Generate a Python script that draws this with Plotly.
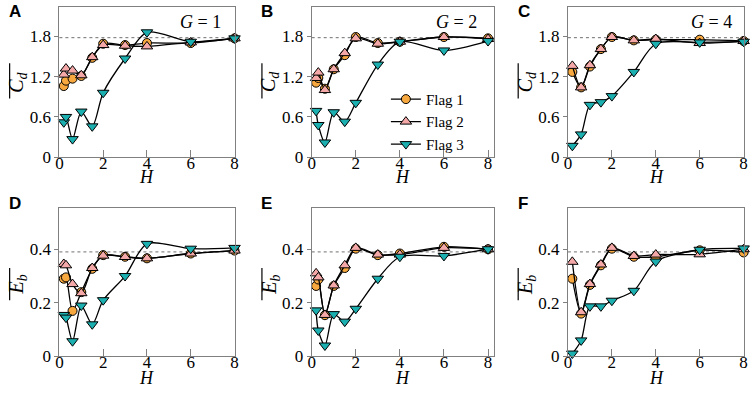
import plotly.graph_objects as go

# ---------------- data ----------------
H_AB = [0.2, 0.3, 0.6, 1, 1.5, 2, 3, 4, 6, 8]
H_C = [0.2, 0.6, 1, 1.5, 2, 3, 4, 6, 8]

cd_A_f1 = [1.06, 1.14, 1.17, 1.21, 1.48, 1.69, 1.67, 1.70, 1.70, 1.77]
cd_A_f2 = [1.23, 1.32, 1.29, 1.22, 1.49, 1.67, 1.66, 1.65, 1.71, 1.77]
cd_A_f3 = [0.52, 0.60, 0.27, 0.68, 0.46, 0.96, 1.47, 1.86, 1.72, 1.77]

cd_B_f1 = [1.11, 1.18, 1.02, 1.31, 1.52, 1.79, 1.70, 1.72, 1.79, 1.77]
cd_B_f2 = [1.18, 1.26, 1.00, 1.31, 1.55, 1.77, 1.69, 1.72, 1.79, 1.76]
cd_B_f3 = [0.69, 0.48, 0.22, 0.67, 0.53, 0.81, 1.38, 1.72, 1.59, 1.73]

cd_C_f1 = [1.27, 1.04, 1.35, 1.61, 1.79, 1.74, 1.75, 1.75, 1.73]
cd_C_f2 = [1.36, 1.04, 1.37, 1.61, 1.79, 1.74, 1.76, 1.70, 1.73]
cd_C_f3 = [0.17, 0.34, 0.78, 0.82, 0.91, 1.27, 1.69, 1.71, 1.72]

eb_D_f1 = [0.29, 0.295, 0.17, 0.24, 0.327, 0.378, 0.372, 0.366, 0.384, 0.395]
eb_D_f2 = [0.345, 0.34, 0.27, 0.236, 0.33, 0.376, 0.371, 0.366, 0.384, 0.395]
eb_D_f3 = [0.155, 0.145, 0.057, 0.19, 0.12, 0.21, 0.30, 0.42, 0.402, 0.405]

eb_E_f1 = [0.263, 0.287, 0.154, 0.263, 0.33, 0.402, 0.378, 0.384, 0.409, 0.40]
eb_E_f2 = [0.31, 0.295, 0.155, 0.265, 0.34, 0.405, 0.38, 0.38, 0.405, 0.40]
eb_E_f3 = [0.172, 0.097, 0.041, 0.158, 0.13, 0.178, 0.29, 0.372, 0.375, 0.40]

eb_F_f1 = [0.29, 0.16, 0.267, 0.34, 0.402, 0.372, 0.372, 0.396, 0.388]
eb_F_f2 = [0.353, 0.165, 0.27, 0.343, 0.405, 0.375, 0.38, 0.381, 0.40]
eb_F_f3 = [0.011, 0.06, 0.187, 0.187, 0.208, 0.245, 0.354, 0.398, 0.403]

series_names = ["Flag 1", "Flag 2", "Flag 3"]
G_labels = ["<i>G</i> = 1", "<i>G</i> = 2", "<i>G</i> = 4"]
panel_letters = ["A", "B", "C", "D", "E", "F"]
cd_ref = 1.78
eb_ref = 0.39
cd_ticks = [0, 0.6, 1.2, 1.8]
eb_ticks = [0, 0.2, 0.4]
x_ticks = [0, 2, 4, 6, 8]

panels = [
    (H_AB, [cd_A_f1, cd_A_f2, cd_A_f3]),
    (H_AB, [cd_B_f1, cd_B_f2, cd_B_f3]),
    (H_C, [cd_C_f1, cd_C_f2, cd_C_f3]),
    (H_AB, [eb_D_f1, eb_D_f2, eb_D_f3]),
    (H_AB, [eb_E_f1, eb_E_f2, eb_E_f3]),
    (H_C, [eb_F_f1, eb_F_f2, eb_F_f3]),
]

# ---------------- style ----------------
W, Hgt = 754, 397
colors = ["#F7A940", "#F4A9A8", "#1BAFB0"]
symbols = ["circle", "triangle-up", "triangle-down"]
msize = [9, 10, 10]
SERIF = "Liberation Serif, Times New Roman, DejaVu Serif, serif"
SANS = "Liberation Sans, Arial, sans-serif"

col_px = [(56, 233), (311, 495), (570, 748)]
row_px = [(7.3, 161.3), (213.3, 365.7)]
x_ranges = [[0, 8], [0, 8.26], [0, 8.02]]
y_ranges = [[0, 2.235], [0, 0.554]]


def px(xp):
    return xp / W


def py(yp):
    return 1 - yp / Hgt


fig = go.Figure()
layout = {}
shapes = []
annotations = []

for i, (hx, ys) in enumerate(panels):
    r, c = divmod(i, 3)
    ax = "" if i == 0 else str(i + 1)
    for k in range(3):
        fig.add_trace(go.Scatter(
            x=hx, y=ys[k], mode="lines+markers",
            name=series_names[k],
            line=dict(color="black", width=1.3, shape="spline", smoothing=0.8),
            marker=dict(symbol=symbols[k], size=msize[k], color=colors[k],
                        line=dict(color="black", width=1)),
            cliponaxis=False,
            showlegend=(i == 1),
            xaxis="x" + ax, yaxis="y" + ax,
        ))
    x0, x1 = col_px[c]
    yt, yb = row_px[r]
    layout["xaxis" + ax] = dict(
        domain=[px(x0), px(x1)], anchor="y" + ax, range=x_ranges[c],
        tickvals=x_ticks, ticks="inside", ticklen=7, tickcolor="#808080",
        showline=True, mirror=True, linecolor="#808080", linewidth=1.2,
        showgrid=False, zeroline=False, ticklabeloverflow="allow",
        ticklabelstandoff=-10,
        tickfont=dict(family=SERIF, size=17, color="black"),
    )
    layout["yaxis" + ax] = dict(
        domain=[py(yb), py(yt)], anchor="x" + ax, range=y_ranges[r],
        tickvals=cd_ticks if r == 0 else eb_ticks,
        ticks="outside", ticklen=4, tickcolor="#808080",
        showline=True, mirror=True, linecolor="#808080", linewidth=1.2,
        showgrid=False, zeroline=False,
        tickfont=dict(family=SERIF, size=17, color="black"),
    )
    # dotted reference line
    shapes.append(dict(type="line", xref="x" + ax + " domain", yref="y" + ax,
                       x0=0, x1=1, y0=cd_ref if r == 0 else eb_ref,
                       y1=cd_ref if r == 0 else eb_ref,
                       line=dict(color="#707070", width=1, dash="dot"),
                       layer="below"))
    # panel letter
    annotations.append(dict(text="<b>%s</b>" % panel_letters[i],
                            xref="paper", yref="paper",
                            x=px(x0 - 53), y=py(12 if r == 0 else 208.5),
                            xanchor="left", yanchor="middle", showarrow=False,
                            font=dict(family=SANS, size=17, color="black")))
    # x title
    annotations.append(dict(text="<i>H</i>", xref="paper", yref="paper",
                            x=px((x0 + x1) / 2), y=py(yb + (20 if r == 0 else 22)),
                            xanchor="center", yanchor="middle", showarrow=False,
                            font=dict(family=SERIF, size=18, color="black")))
    # y title (rotated) with overline
    ytxt = "<i>C</i><sub><i>d</i></sub>" if r == 0 else "<i>E</i><sub><i>b</i></sub>"
    ycen = 84 if r == 0 else 292
    annotations.append(dict(text=ytxt, textangle=-90, xref="paper", yref="paper",
                            x=px(x0 - 42), y=py(ycen),
                            xanchor="center", yanchor="middle", showarrow=False,
                            font=dict(family=SERIF, size=20, color="black")))
    ov0, ov1 = (65, 101) if r == 0 else (275, 308)
    shapes.append(dict(type="line", xref="paper", yref="paper",
                       x0=px(x0 - 50.3), x1=px(x0 - 50.3), y0=py(ov0), y1=py(ov1),
                       line=dict(color="black", width=1.2)))
    if r == 0:
        gx = [199, 457, 715][c]
        annotations.append(dict(text=G_labels[c], xref="paper", yref="paper",
                                x=px(gx), y=py(23), xanchor="center",
                                yanchor="middle", showarrow=False,
                                font=dict(family=SERIF, size=18, color="black")))

fig.update_layout(
    **layout,
    width=W, height=Hgt,
    margin=dict(l=0, r=0, t=0, b=0),
    font=dict(family=SERIF, color="black"),
    paper_bgcolor="white", plot_bgcolor="white",
    shapes=shapes, annotations=annotations,
    legend=dict(x=px(386), y=py(85), xanchor="left", yanchor="top",
                bgcolor="rgba(0,0,0,0)", tracegroupgap=0,
                font=dict(family=SERIF, size=15, color="black")),
)

fig.write_html("out.html",
               config={"displayModeBar": False},
               post_script="document.body.style.margin='0';"
                           "document.body.style.overflow='hidden';")
